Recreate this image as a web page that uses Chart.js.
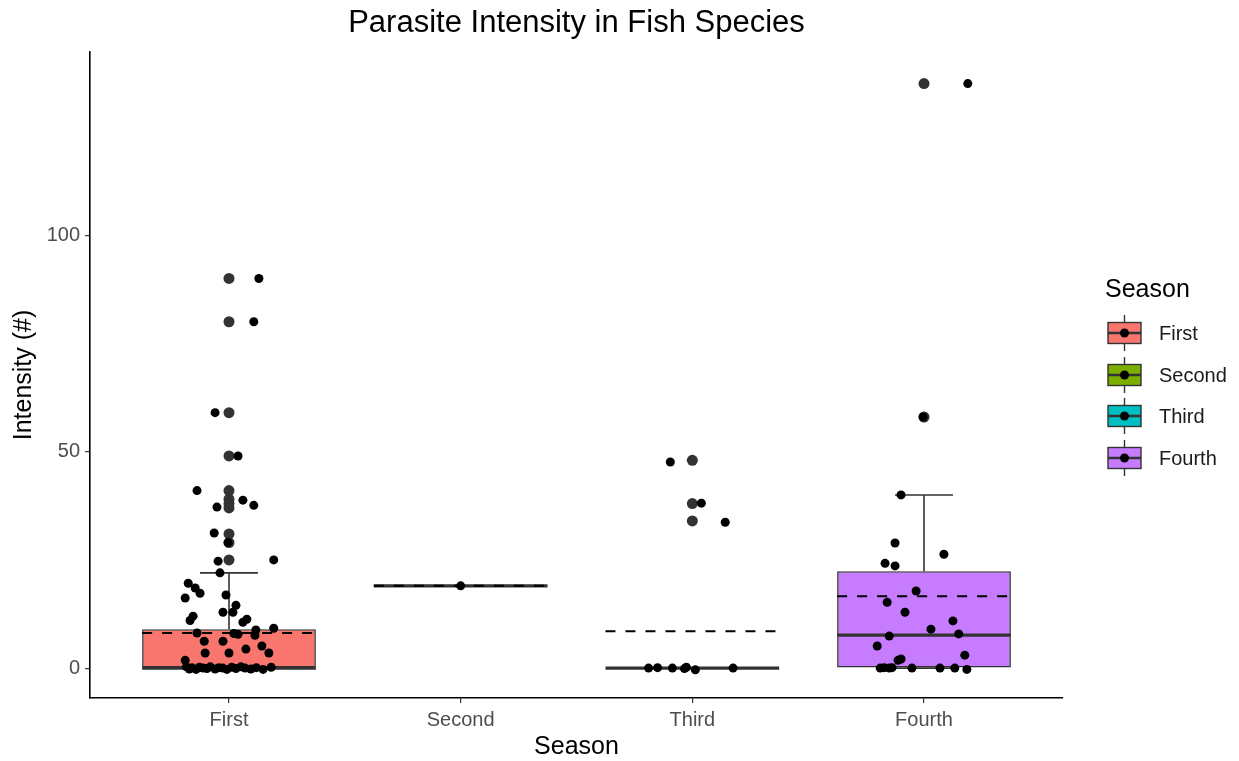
<!DOCTYPE html>
<html><head><meta charset="utf-8">
<script src="https://cdn.jsdelivr.net/npm/chart.js@4.4.1/dist/chart.umd.min.js"></script>
<style>
html,body{margin:0;padding:0;background:#fff;}
#wrap{position:relative;width:1239px;height:761px;font-family:"Liberation Sans",Arial,Helvetica,sans-serif;overflow:hidden;}
#title{position:absolute;left:90px;width:973px;top:4px;text-align:center;font-size:31px;line-height:36px;color:#000;}
canvas{position:absolute;left:0;top:0;}
#legend{position:absolute;left:1100px;top:268px;width:139px;}
#legend .lt{position:absolute;left:5px;top:0;font-size:25px;line-height:40px;color:#000;white-space:nowrap;}
#legend .it{position:absolute;left:0;height:42px;width:139px;}
#legend .it svg{position:absolute;left:4px;top:0;}
#legend .it span{position:absolute;left:59px;top:0;font-size:20px;line-height:42px;color:#1a1a1a;white-space:nowrap;}
</style></head>
<body>
<div id="wrap">
  <canvas id="c" width="1239" height="761"></canvas>
  <div id="title">Parasite Intensity in Fish Species</div>
  <div id="legend"><div class="lt">Season</div></div>
</div>
<script>
// ---- data ----
const categories = ['First', 'Second', 'Third', 'Fourth'];
const boxColors = ['#F8766D', '#7CAE00', '#00BFC4', '#C77CFF'];
const q1Values = [0, 19, 0, 0];
const medianValues = [0, 19, 0, 7.6];
const q3Values = [9, 19, 0, 22.4];
const whiskerLow = [0, 19, 0, 0];
const whiskerHigh = [22, 19, 0, 40];
const meanValues = [8.1, 19, 8.5, 16.6];
const yTickValues = [0, 50, 100];

const outliersFirst = [90, 80, 59, 49, 41, 39, 38, 37, 31, 29, 25];
const outliersSecond = [];
const outliersThird = [48, 38, 34];
const outliersFourth = [135, 58];

const jitterFirst = [90, 80, 59, 49, 41, 38.8, 37.6, 37.2, 31.2, 29, 25, 24.7, 22, 19.6, 18.5, 17.3, 16.9, 16.2, 14.5, 12.9, 12.9, 12, 11.3, 11, 10.6, 9.2, 8.8, 8.1, 8, 7.8, 7.6, 6.2, 6.2, 5.1, 4.4, 3.5, 3.5, 3.5, 1.8,
  0.3, -0.2, 0.1, -0.3, 0.2, 0, -0.1, 0.3, -0.2, 0.1, 0, -0.3, 0.2, -0.1, 0.3, 0, -0.2, 0.1, -0.3, 0.2];
const jitterFirstDx = [0.129, 0.107, -0.060, 0.039, -0.138, 0.060, 0.107, -0.052, -0.064, -0.004, 0.193, -0.047, -0.039, -0.176, -0.146, -0.125, -0.013, -0.189, 0.030, 0.017, -0.026, -0.155, 0.077, -0.168, 0.060, 0.193, 0.116, -0.138, 0.021, 0.039, 0.112, -0.107, -0.026, 0.142, 0.073, -0.103, 0.000, 0.172, -0.189,
  -0.184, -0.171, -0.160, -0.142, -0.128, -0.112, -0.095, -0.081, -0.060, -0.044, -0.027, -0.009, 0.012, 0.030, 0.051, 0.069, 0.094, 0.118, 0.147, 0.182];
const jitterSecond = [19];
const jitterSecondDx = [0];
const jitterThird = [47.6, 38.1, 33.7, 0, 0.1, 0, -0.1, 0.2, -0.4, 0];
const jitterThirdDx = [-0.095, 0.039, 0.142, -0.189, -0.150, -0.086, -0.034, -0.026, 0.013, 0.176];
const jitterFourth = [135, 58, 40, 28.9, 26.3, 24.2, 23.6, 17.8, 15.2, 12.9, 10.9, 9.0, 7.9, 7.4, 5.1, 3.0, 2.1, 1.8, 0, 0.1, 0, 0.1, 0, 0, 0, -0.3];
const jitterFourthDx = [0.189, -0.004, -0.099, -0.125, 0.086, -0.168, -0.125, -0.034, -0.159, -0.082, 0.125, 0.030, 0.150, -0.150, -0.202, 0.176, -0.099, -0.112, -0.189, -0.172, -0.150, -0.138, -0.052, 0.069, 0.133, 0.185];

// ---- build datasets ----
const FONT = '"Liberation Sans", Arial, Helvetica, sans-serif';
const boxWidth = 0.75, capWidth = 0.25;
const outlierGroups = [outliersFirst, outliersSecond, outliersThird, outliersFourth];
const jitterGroups = [jitterFirst, jitterSecond, jitterThird, jitterFourth];
const jitterDxGroups = [jitterFirstDx, jitterSecondDx, jitterThirdDx, jitterFourthDx];

function segments(make) {
  const out = [];
  categories.forEach((c, i) => {
    make(i + 1, i).forEach(seg => { seg.forEach(p => out.push(p)); out.push({x: i + 1.5, y: null}); });
  });
  return out;
}
const medianData = segments((x, i) => [[{x: x - boxWidth/2, y: medianValues[i]}, {x: x + boxWidth/2, y: medianValues[i]}]]);
const meanData = segments((x, i) => [[{x: x - boxWidth/2, y: meanValues[i]}, {x: x + boxWidth/2, y: meanValues[i]}]]);
const whiskerData = segments((x, i) => [
  [{x: x, y: q3Values[i]}, {x: x, y: whiskerHigh[i]}],
  [{x: x - capWidth/2, y: whiskerHigh[i]}, {x: x + capWidth/2, y: whiskerHigh[i]}],
  [{x: x, y: q1Values[i]}, {x: x, y: whiskerLow[i]}],
  [{x: x - capWidth/2, y: whiskerLow[i]}, {x: x + capWidth/2, y: whiskerLow[i]}]
]);
const boxData = categories.map((c, i) => ({x: i + 1, y: [q1Values[i], q3Values[i]]}));
const outlierData = [];
outlierGroups.forEach((g, i) => g.forEach(v => outlierData.push({x: i + 1, y: v})));
const jitterData = [];
jitterGroups.forEach((g, i) => g.forEach((v, k) => jitterData.push({x: i + 1 + jitterDxGroups[i][k], y: v})));

const lineBase = {type: 'line', pointRadius: 0, fill: false, tension: 0, spanGaps: false};

new Chart(document.getElementById('c'), {
  type: 'bar',
  data: {
    datasets: [
      {type: 'scatter', data: jitterData, backgroundColor: '#000', borderWidth: 0, pointRadius: 4.5, order: 0},
      {type: 'scatter', data: outlierData, backgroundColor: '#333', borderWidth: 0, pointRadius: 5.5, order: 1},
      Object.assign({}, lineBase, {data: meanData, borderColor: '#000', borderWidth: 2, borderDash: [10, 10], order: 2}),
      Object.assign({}, lineBase, {data: medianData, borderColor: '#333', borderWidth: 3.2, order: 3}),
      Object.assign({}, lineBase, {data: whiskerData, borderColor: '#333', borderWidth: 1.6, order: 4}),
      {type: 'bar', data: boxData, backgroundColor: boxColors, borderColor: '#333', borderWidth: 1.6,
       borderSkipped: false, categoryPercentage: 1, barPercentage: boxWidth, inflateAmount: 0, order: 5}
    ]
  },
  options: {
    responsive: false, animation: false, devicePixelRatio: 1,
    events: [],
    layout: {padding: {top: 52, right: 176, bottom: 0, left: 0}},
    plugins: {legend: {display: false}, tooltip: {enabled: false}, title: {display: false}},
    scales: {
      x: {
        type: 'linear', min: 0.4, max: 4.6, offset: false,
        afterBuildTicks: s => { s.ticks = categories.map((c, i) => ({value: i + 1})); },
        afterFit: s => { s.height = 63; },
        ticks: {callback: v => categories[Math.round(v) - 1], font: {family: FONT, size: 20}, color: '#4D4D4D', padding: 5, autoSkip: false, maxRotation: 0},
        grid: {display: true, offset: false, drawOnChartArea: false, drawTicks: true, tickLength: 5, color: '#333', lineWidth: 1.2},
        border: {display: true, color: '#000', width: 1.6},
        title: {display: true, text: 'Season', font: {family: FONT, size: 25, lineHeight: 1}, color: '#000', padding: {top: 0, bottom: 1}}
      },
      y: {
        type: 'linear', min: -6.9, max: 142.3,
        afterBuildTicks: s => { s.ticks = yTickValues.map(v => ({value: v})); },
        afterFit: s => { s.width = 90; },
        ticks: {font: {family: FONT, size: 20}, color: '#4D4D4D', padding: 5},
        grid: {display: true, drawOnChartArea: false, drawTicks: true, tickLength: 5, color: '#333', lineWidth: 1.2},
        border: {display: true, color: '#000', width: 1.6},
        title: {display: true, text: 'Intensity (#)', font: {family: FONT, size: 25, lineHeight: 1}, color: '#000', padding: {top: 12, bottom: 0}}
      }
    }
  }
});

// ---- legend (HTML) ----
const legend = document.getElementById('legend');
categories.forEach((c, i) => {
  const it = document.createElement('div');
  it.className = 'it';
  it.style.top = (44 + i * 41.5) + 'px';
  it.innerHTML = '<svg width="40" height="42" viewBox="0 0 40 42">' +
    '<line x1="20.5" y1="3" x2="20.5" y2="39" stroke="#333" stroke-width="1.4"/>' +
    '<rect x="4" y="10.5" width="33" height="21" fill="' + boxColors[i] + '" stroke="#333" stroke-width="1.4"/>' +
    '<line x1="4" y1="21" x2="37" y2="21" stroke="#333" stroke-width="2.4"/>' +
    '<circle cx="20.5" cy="21" r="4.5" fill="#000"/></svg><span>' + c + '</span>';
  legend.appendChild(it);
});
</script>
</body></html>
